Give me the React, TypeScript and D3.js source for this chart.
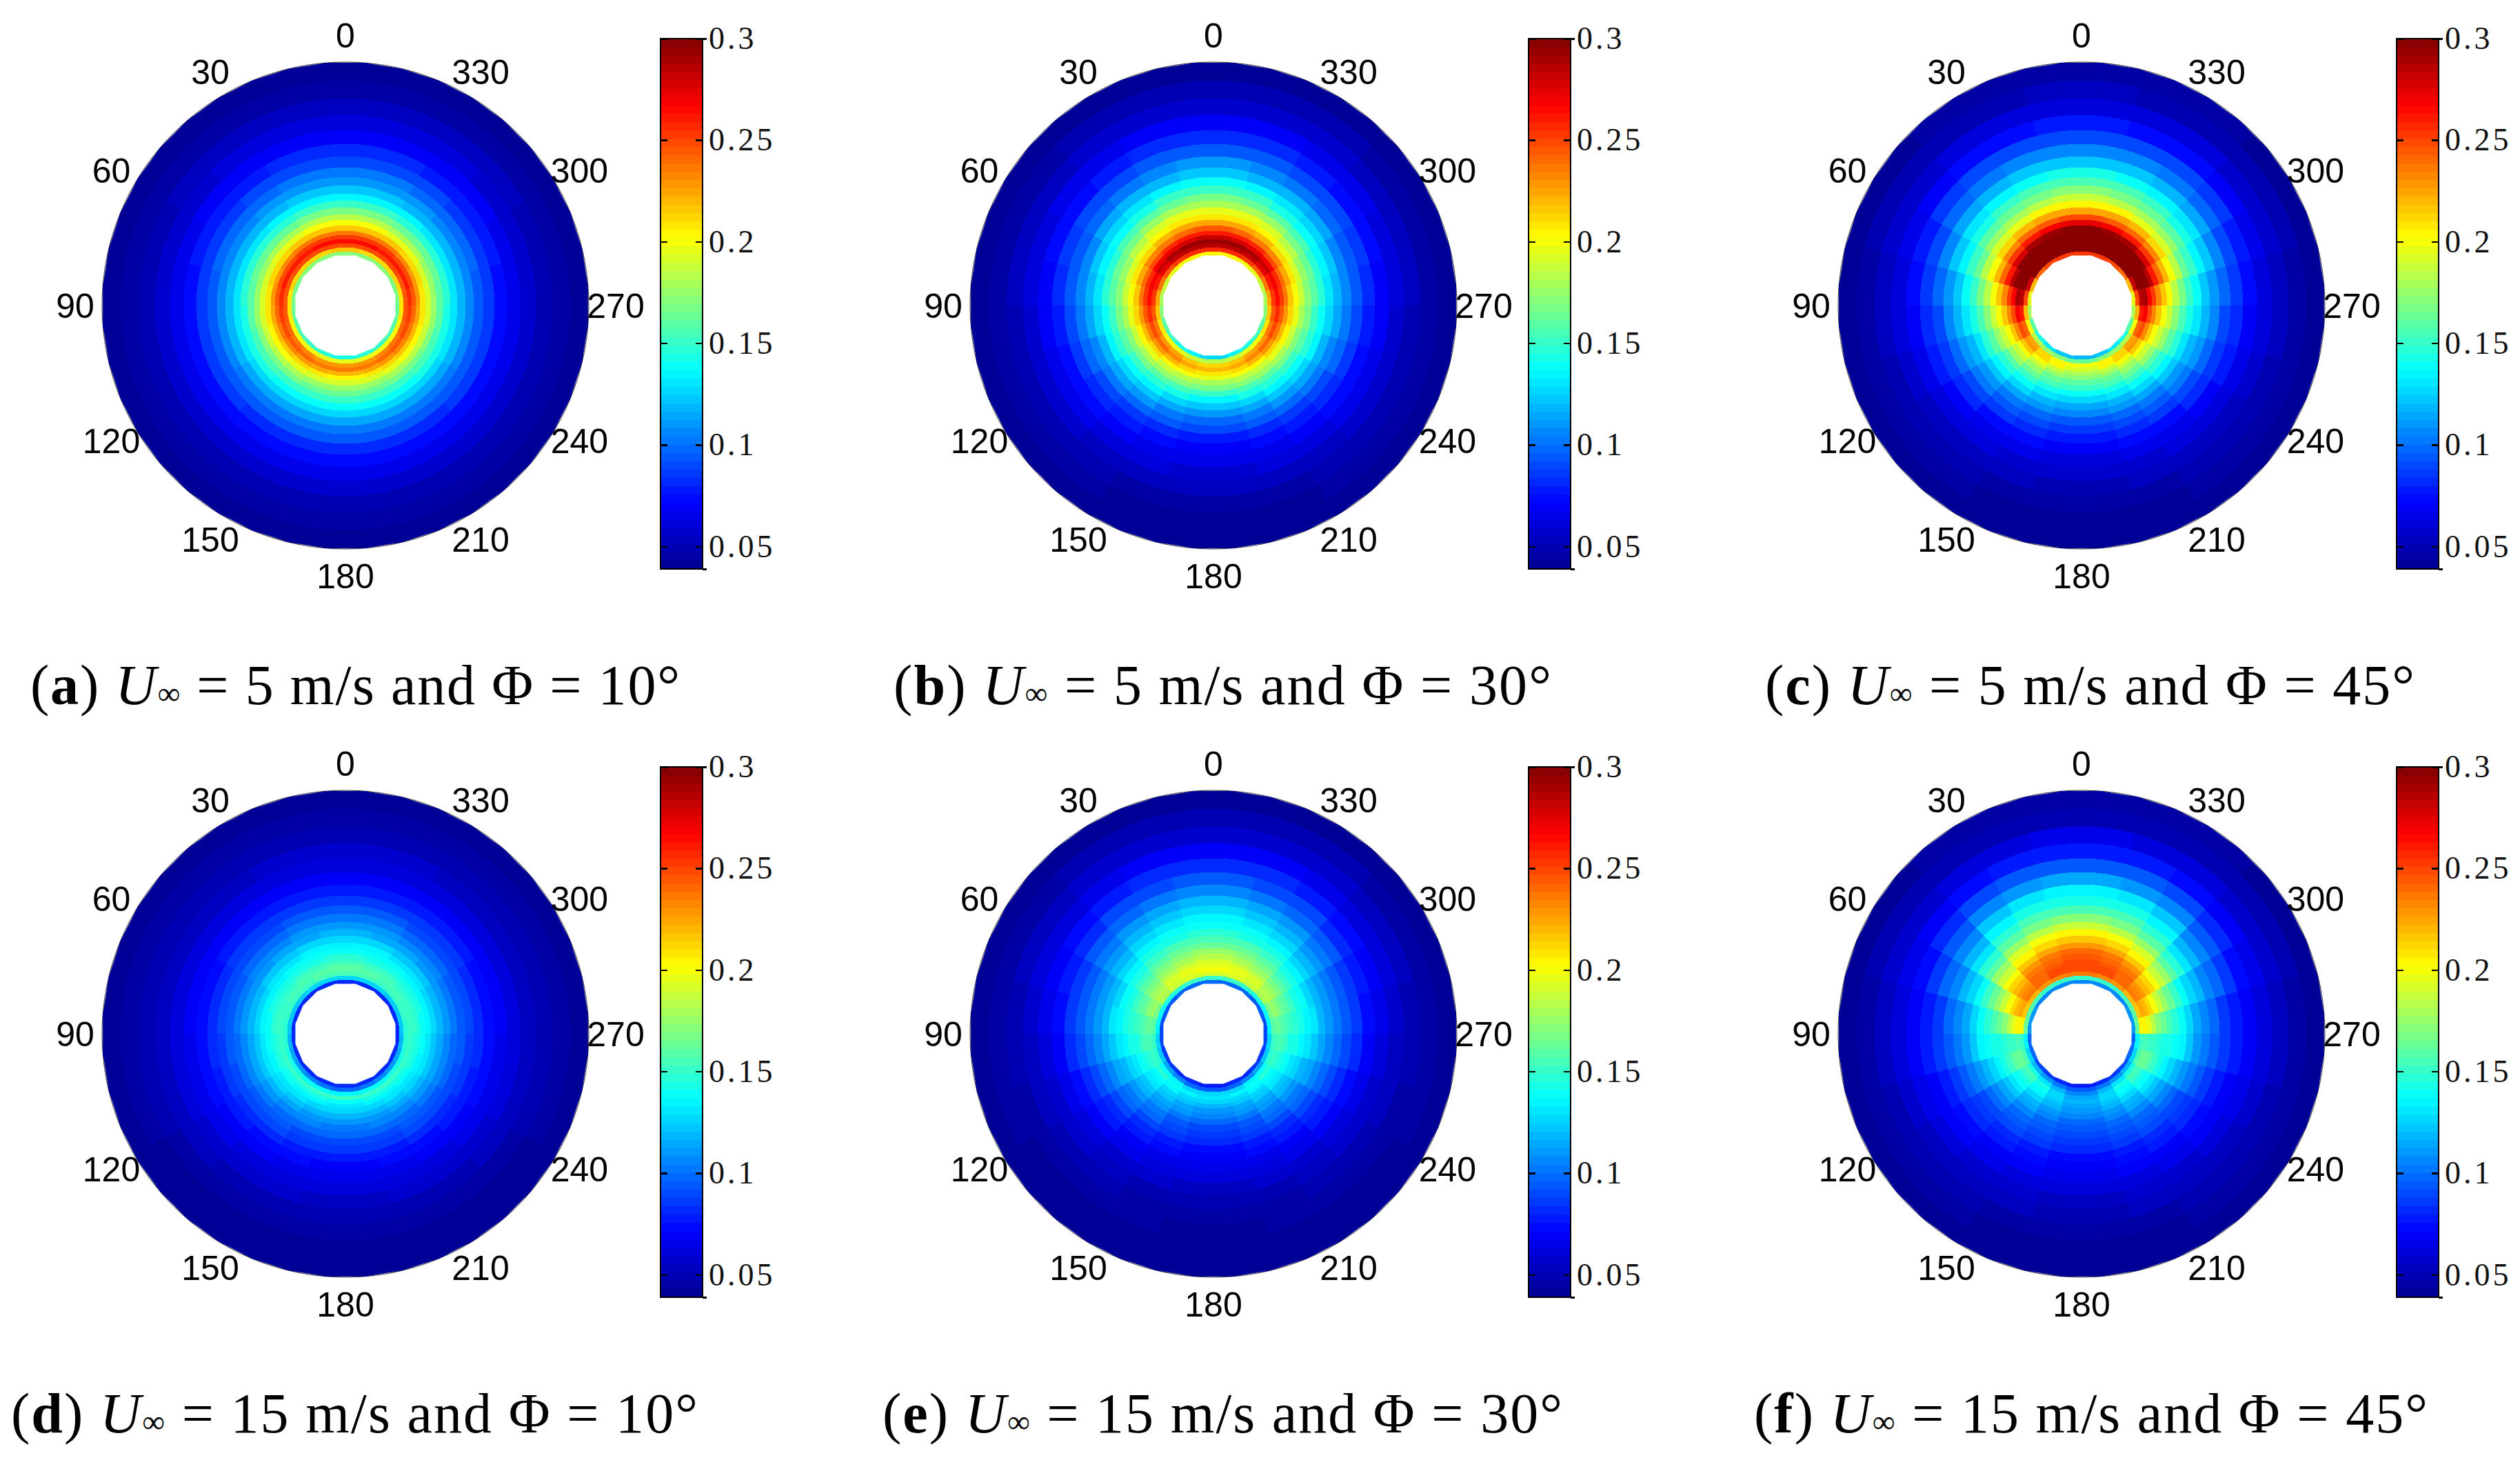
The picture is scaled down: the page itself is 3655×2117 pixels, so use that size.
import React from 'react';
import * as d3 from 'd3';

// radial stations (px out from the hole edge) bounding each ring of the tables below
const ringEdges = [0, 6, 12, 18, 24, 30, 36, 44, 52, 60, 70, 80, 90, 102, 114, 128, 144, 162, 182, 204, 228, 254, 280];
const angleLabels = [0, 30, 60, 90, 120, 150, 180, 210, 240, 270, 300, 330];
const colorTicks = [0.05, 0.1, 0.15, 0.2, 0.25, 0.3];
const colorTickLabels = ['0.05', '0.1', '0.15', '0.2', '0.25', '0.3'];

// values x1000, one row per 15 degree sector from the top down to the bottom (left/right mirrored)
const panelA = [
  [172,215,250,266,255,238,218,200,183,168,151,135,122,112,102,92,81,71,62,54,47,42],
  [172,214,249,265,254,237,217,199,182,167,150,134,121,111,101,91,80,70,61,53,47,42],
  [171,213,248,263,252,235,215,197,180,165,149,133,120,110,100,89,79,69,60,53,46,42],
  [170,212,247,261,250,233,213,195,178,163,147,132,119,108,98,87,77,68,59,52,46,42],
  [168,211,246,260,247,230,212,193,177,162,147,132,119,107,97,86,76,67,58,51,46,42],
  [166,210,245,258,245,228,210,192,176,161,146,132,119,107,96,85,75,66,58,51,46,42],
  [164,208,243,255,242,225,207,190,174,159,145,131,118,106,95,84,75,66,58,51,46,42],
  [160,205,239,250,238,221,203,187,171,157,143,129,117,105,94,84,74,66,57,51,45,41],
  [156,202,236,246,234,217,200,184,169,155,141,128,116,104,94,84,74,66,57,50,45,41],
  [152,199,232,241,229,212,196,180,166,152,140,126,115,104,93,83,73,66,57,50,45,41],
  [148,197,230,238,225,209,192,177,164,151,139,126,114,103,93,83,73,66,57,50,45,41],
  [145,195,228,235,222,206,190,175,163,150,138,125,114,103,93,83,73,66,57,50,45,41],
];
const panelB = [
  [205,258,285,295,280,262,243,226,210,198,181,167,152,137,122,109,96,82,69,58,49,43],
  [205,257,284,293,278,260,241,224,208,196,179,165,150,135,120,107,94,80,68,57,49,43],
  [200,252,280,288,275,257,238,220,204,191,174,160,145,131,117,104,91,78,66,56,48,43],
  [194,245,272,280,268,250,232,214,198,184,168,154,140,126,113,100,88,75,64,55,47,42],
  [186,235,262,270,258,242,224,207,192,176,163,149,134,121,108,96,84,72,62,53,47,42],
  [178,226,254,264,252,236,218,202,186,172,160,146,132,118,106,93,81,70,60,52,46,42],
  [170,218,246,256,244,228,211,195,180,166,153,140,126,113,101,89,78,68,59,51,46,42],
  [160,208,238,248,235,219,203,187,173,159,146,133,120,108,97,85,75,66,57,50,45,41],
  [150,201,230,239,227,212,196,181,166,152,139,126,114,103,92,81,72,64,56,49,45,41],
  [141,195,224,232,220,205,189,175,160,146,133,121,109,98,87,77,69,62,54,48,44,40],
  [134,189,217,225,213,199,184,170,154,141,128,116,104,93,83,73,66,60,53,47,43,40],
  [128,185,212,220,208,195,180,166,150,136,124,111,99,88,78,70,64,58,52,47,43,40],
];
const panelC = [
  [255,315,345,355,348,325,297,272,248,226,205,187,170,156,141,124,107,92,76,62,52,45],
  [255,313,343,353,345,322,294,269,246,224,203,185,168,154,139,122,105,90,75,61,51,45],
  [250,308,338,347,338,315,288,263,240,219,198,180,164,150,135,119,102,88,73,60,50,44],
  [240,296,326,333,323,302,277,253,232,211,191,174,158,144,129,113,98,84,70,58,49,43],
  [222,280,308,314,303,284,260,240,220,200,182,165,150,136,122,107,92,79,67,56,48,43],
  [198,248,284,288,270,252,233,216,199,182,166,151,137,124,111,97,85,74,63,54,47,42],
  [178,222,262,268,250,233,216,202,188,172,157,142,129,117,105,92,81,71,61,52,46,42],
  [158,200,240,248,232,216,200,187,174,160,146,132,120,109,98,87,77,67,58,50,45,41],
  [142,185,225,230,215,200,186,174,161,148,134,122,111,101,91,80,71,63,55,49,44,41],
  [130,176,213,214,200,186,174,162,150,138,125,114,104,94,84,75,67,60,53,48,44,40],
  [122,170,205,203,188,175,164,154,143,131,120,110,100,90,80,72,65,58,52,47,43,40],
  [118,165,200,193,180,172,160,150,138,126,116,106,96,86,76,69,62,56,51,47,43,40],
];
const panelD = [
  [82,125,155,160,158,152,146,140,134,126,117,110,102,94,87,79,71,63,56,50,45,41],
  [82,125,155,159,157,151,145,139,133,125,116,109,101,93,86,78,70,63,56,50,45,41],
  [82,125,153,157,155,150,144,138,131,123,114,107,99,91,85,77,70,62,55,49,45,41],
  [82,124,152,155,153,148,142,136,129,121,112,105,97,90,84,76,69,62,55,49,44,41],
  [82,123,150,153,151,147,141,135,127,119,111,103,96,89,83,75,68,62,55,49,44,41],
  [82,122,148,152,150,146,140,134,126,118,110,102,95,88,82,75,68,62,55,49,44,41],
  [82,120,146,151,149,144,138,132,124,116,108,100,94,87,81,74,67,61,54,48,44,41],
  [81,116,144,151,147,141,135,129,121,113,106,99,92,85,79,72,66,60,53,48,44,40],
  [81,112,141,151,145,138,132,125,118,110,103,96,90,83,76,70,64,58,52,47,43,40],
  [80,108,139,151,143,136,129,122,114,107,100,94,88,81,74,68,62,57,51,47,43,40],
  [80,104,137,150,141,134,127,119,112,105,98,92,86,79,72,66,61,56,51,46,43,40],
  [80,100,135,150,140,132,125,117,110,103,97,91,85,78,71,65,60,55,50,46,43,40],
];
const panelE = [
  [98,150,192,200,197,190,182,174,165,157,147,140,133,126,117,106,93,82,70,59,50,43],
  [98,150,190,198,195,188,180,172,163,155,145,138,131,124,115,104,91,80,69,58,49,43],
  [98,148,186,193,190,183,175,167,158,150,141,134,126,119,110,100,88,77,66,56,48,42],
  [96,145,178,185,181,175,167,160,152,144,135,127,119,112,103,93,83,73,63,54,47,42],
  [94,140,168,174,170,165,158,152,145,137,128,120,112,104,96,87,78,69,60,52,46,42],
  [90,134,160,165,161,156,151,146,141,136,129,118,110,101,94,84,75,66,57,50,45,41],
  [88,128,152,157,154,150,145,141,136,130,123,114,105,97,90,80,71,63,55,49,45,41],
  [86,122,146,150,146,142,137,132,126,120,113,105,97,90,82,74,66,59,53,47,44,40],
  [84,116,140,146,140,135,130,124,118,111,104,97,90,83,76,69,62,56,51,46,43,40],
  [82,108,134,140,134,128,122,116,110,103,97,90,83,77,71,65,59,53,49,45,42,40],
  [80,100,128,135,128,121,115,109,103,96,90,84,78,72,67,62,56,51,47,44,41,40],
  [78,95,125,132,125,117,111,105,99,92,86,80,74,69,65,60,55,50,46,43,41,40],
];
const panelF = [
  [105,150,235,250,250,248,245,240,228,215,203,187,170,157,145,133,115,95,78,64,51,44],
  [105,150,232,247,247,245,242,236,224,212,200,184,167,154,142,130,112,93,77,63,51,44],
  [105,150,228,242,242,239,235,228,216,204,191,175,160,147,135,122,106,89,74,61,50,44],
  [108,155,222,236,234,230,222,213,200,188,175,160,146,132,120,108,95,82,69,58,49,43],
  [110,158,215,225,220,212,200,188,176,164,152,140,128,120,108,97,86,75,65,56,48,43],
  [112,165,205,205,195,183,172,163,155,147,139,127,115,106,97,87,78,69,61,53,47,42],
  [100,135,152,155,153,150,147,144,141,138,134,122,110,102,94,86,77,69,60,53,46,42],
  [100,128,155,165,163,158,150,143,136,128,120,111,102,94,87,79,71,64,57,50,45,41],
  [92,118,145,155,152,145,138,130,122,114,106,99,92,86,80,74,68,61,55,49,44,40],
  [86,110,130,142,140,134,127,120,113,107,100,94,88,82,76,71,65,59,53,48,44,40],
  [80,102,118,126,128,124,118,112,106,100,94,89,84,78,73,68,63,57,52,47,43,40],
  [76,95,108,116,118,115,110,105,100,95,90,85,80,75,70,65,60,55,50,46,43,40],
];

const W = 3655, H = 2117;
const R_HOLE = 73, R_OUT = 353;
const LABEL_R = 392;
const V_MIN = 0.039, V_MAX = 0.3;

const jet = d3.scaleLinear<string>()
  .domain([0, 0.125, 0.375, 0.625, 0.875, 1])
  .range(['#00008f', '#0000ff', '#00ffff', '#ffff00', '#ff0000', '#800000'])
  .interpolate(d3.interpolateRgb);
const levels = d3.range(64).map(i => jet((i + 0.5) / 64));
const color = d3.scaleQuantize<string>().domain([V_MIN, V_MAX]).range(levels);

const radius = d3.scaleLinear().domain([0, 280]).range([R_HOLE, R_OUT]);
const arc = d3.arc<any>();
const rad = (deg: number) => (deg * Math.PI) / 180;

const polygon = (r: number, n: number) =>
  d3.lineRadial<number>().radius(r).angle(i => rad((i + 0.5) * (360 / n))).curve(d3.curveLinearClosed)(d3.range(n)) as string;

function Disk({ id, values }: { id: string; values: number[][] }) {
  return (
    <g>
      <circle r={R_OUT} fill="none" stroke="#333" strokeWidth={1} />
      <clipPath id={id}><path d={polygon(R_OUT, 40)} /></clipPath>
      <g clipPath={`url(#${id})`} shapeRendering="crispEdges">
        {values.map((row, s) => row.map((v, k) => {
          const c = color(v / 1000);
          const a = { innerRadius: radius(ringEdges[k]) - 5 * +(k === 0), outerRadius: radius(ringEdges[k + 1]) };
          return (
            <g key={`${s}-${k}`}>
              <path fill={c} stroke={c} strokeWidth={1} d={arc({ ...a, startAngle: rad(-s * 15), endAngle: rad(-(s + 1) * 15) }) as string} />
              <path fill={c} stroke={c} strokeWidth={1} d={arc({ ...a, startAngle: rad(s * 15), endAngle: rad((s + 1) * 15) }) as string} />
            </g>
          );
        }))}
      </g>
      <path d={polygon(R_HOLE + 1, 16)} fill="#fff" />
      {angleLabels.map(a => (
        <text key={a} x={-LABEL_R * Math.sin(rad(a))} y={-LABEL_R * Math.cos(rad(a))} textAnchor="middle" dy="0.36em"
          fontFamily="'Liberation Sans'" fontSize={50} fill="#000">{a}</text>
      ))}
    </g>
  );
}

function Colorbar() {
  const y = d3.scaleLinear().domain([V_MIN, V_MAX]).range([769, 0]);
  const w = 61;
  const step = (V_MAX - V_MIN) / 64;
  return (
    <g>
      <g shapeRendering="crispEdges">
        {levels.map((c, i) => (
          <rect key={i} x={0} width={w} y={y(V_MIN + (i + 1) * step)} height={769 / 64 + 0.5} fill={c} />
        ))}
        <rect width={w} height={769} fill="none" stroke="#000" strokeWidth={1.5} />
        {colorTicks.map(t => (
          <g key={t} fill="#000">
            <rect x={0} y={y(t) - 1} width={10} height={2.5} />
            <rect x={w - 10} y={y(t) - 1} width={10} height={2.5} />
          </g>
        ))}
        <rect x={w} y={-1} width={6} height={2.5} fill="#000" />
        <rect x={w} y={768} width={6} height={2.5} fill="#000" />
      </g>
      {colorTicks.map((t, i) => (
        <text key={t} x={70} y={y(t)} dy="0.33em" fontFamily="'Liberation Serif'" fontSize={46} letterSpacing={4} fill="#111">{colorTickLabels[i]}</text>
      ))}
    </g>
  );
}

function Caption({ x, y, tag, speed, phi, width }: { x: number; y: number; tag: string; speed: string; phi: string; width: number }) {
  return (
    <text x={x} y={y} fontFamily="'Liberation Serif'" fontSize={82} fill="#000" textLength={width} lengthAdjust="spacing">
      (<tspan fontWeight="bold">{tag}</tspan>) <tspan fontStyle="italic">U</tspan><tspan fontSize={46}>∞</tspan> = {speed} m/s and Φ = {phi}°
    </text>
  );
}

const panels = [
  { id: 'a', values: panelA, cx: 501, cy: 443, barX: 958, barY: 56, speed: '5', phi: '10', capX: 44, capY: 1021, capW: 942 },
  { id: 'b', values: panelB, cx: 1760, cy: 443, barX: 2217, barY: 56, speed: '5', phi: '30', capX: 1296, capY: 1021, capW: 954 },
  { id: 'c', values: panelC, cx: 3019, cy: 443, barX: 3476, barY: 56, speed: '5', phi: '45', capX: 2560, capY: 1021, capW: 942 },
  { id: 'd', values: panelD, cx: 501, cy: 1499, barX: 958, barY: 1112, speed: '15', phi: '10', capX: 16, capY: 2077, capW: 996 },
  { id: 'e', values: panelE, cx: 1760, cy: 1499, barX: 2217, barY: 1112, speed: '15', phi: '30', capX: 1280, capY: 2077, capW: 986 },
  { id: 'f', values: panelF, cx: 3019, cy: 1499, barX: 3476, barY: 1112, speed: '15', phi: '45', capX: 2544, capY: 2077, capW: 977 },
];

export default function App() {
  return (
    <svg width={W} height={H} viewBox={`0 0 ${W} ${H}`} style={{ position: 'absolute', left: 0, top: 0, background: '#fff' }}>
      {panels.map(p => (
        <g key={p.id}>
          <g transform={`translate(${p.cx},${p.cy})`}><Disk id={`clip-${p.id}`} values={p.values} /></g>
          <g transform={`translate(${p.barX},${p.barY})`}><Colorbar /></g>
          <Caption x={p.capX} y={p.capY} tag={p.id} speed={p.speed} phi={p.phi} width={p.capW} />
        </g>
      ))}
    </svg>
  );
}
